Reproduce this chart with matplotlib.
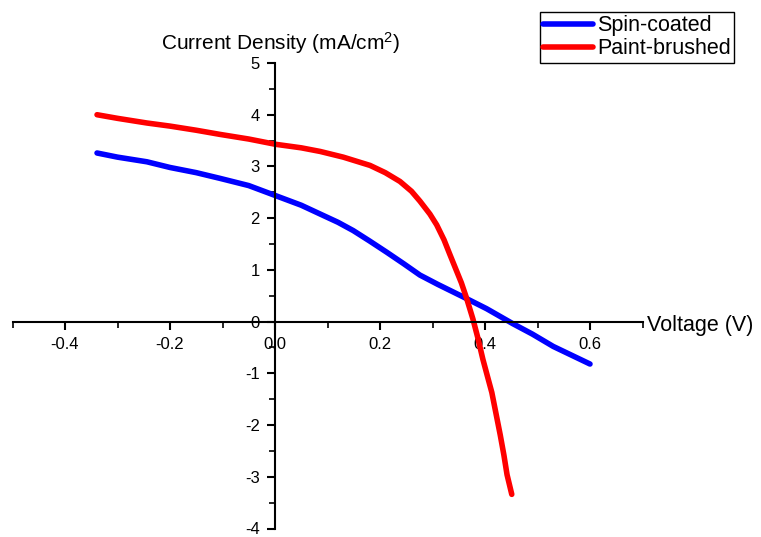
import matplotlib
matplotlib.use("Agg")
import matplotlib.pyplot as plt
from matplotlib.ticker import MultipleLocator

plt.rcParams['font.family'] = ['Liberation Sans', 'DejaVu Sans']
plt.rcParams['mathtext.default'] = 'regular'

# Spin-coated (blue)
spin_v = [-0.339, -0.3, -0.244, -0.2, -0.15, -0.105, -0.05, 0.0, 0.05, 0.086, 0.12, 0.149,
          0.18, 0.213, 0.245, 0.276, 0.31, 0.358, 0.403, 0.453, 0.49, 0.53, 0.565, 0.6]
spin_j = [3.26, 3.18, 3.09, 2.98, 2.88, 2.77, 2.63, 2.44, 2.25, 2.08, 1.92, 1.76,
          1.56, 1.34, 1.12, 0.90, 0.72, 0.48, 0.25, -0.04, -0.24, -0.48, -0.65, -0.82]

# Paint-brushed (red)
paint_v = [-0.339, -0.3, -0.244, -0.2, -0.15, -0.105, -0.05, 0.0, 0.05, 0.086, 0.13, 0.181,
           0.21, 0.238, 0.26, 0.276, 0.295, 0.308, 0.322, 0.333, 0.345, 0.355, 0.365,
           0.377, 0.386, 0.396, 0.405, 0.413, 0.421, 0.429, 0.436, 0.442, 0.451]
paint_j = [4.00, 3.93, 3.84, 3.78, 3.70, 3.62, 3.53, 3.43, 3.36, 3.29, 3.18, 3.02,
           2.88, 2.71, 2.52, 2.33, 2.08, 1.87, 1.58, 1.30, 1.00, 0.75, 0.45,
           0.05, -0.30, -0.73, -1.07, -1.37, -1.78, -2.19, -2.58, -2.96, -3.34]

fig = plt.figure(figsize=(7.61, 5.37), dpi=100)
ax = fig.add_axes([12.5 / 761, 1 - 528.5 / 537, 630 / 761, 465.5 / 537])

ax.plot(spin_v, spin_j, color='#0000ff', lw=4, solid_capstyle='round', label='Spin-coated')
ax.plot(paint_v, paint_j, color='#ff0000', lw=4, solid_capstyle='round', label='Paint-brushed')

ax.set_xlim(-0.5, 0.7)
ax.set_ylim(-4, 5)

# axes crossing at the origin
ax.spines['left'].set_position(('data', 0))
ax.spines['bottom'].set_position(('data', 0))
ax.spines['top'].set_visible(False)
ax.spines['right'].set_visible(False)
for s in ('left', 'bottom'):
    ax.spines[s].set_linewidth(1.5)

ax.xaxis.set_major_locator(MultipleLocator(0.2))
ax.xaxis.set_minor_locator(MultipleLocator(0.1))
ax.yaxis.set_major_locator(MultipleLocator(1))
ax.yaxis.set_minor_locator(MultipleLocator(0.5))
ax.xaxis.set_major_formatter(plt.FuncFormatter(lambda v, p: f"{v:.1f}"))
ax.yaxis.set_major_formatter(plt.FuncFormatter(lambda v, p: f"{v:.0f}"))
ax.tick_params(which='major', direction='out', length=6, width=1.5, labelsize=12, pad=5)
ax.tick_params(which='minor', direction='out', length=4, width=1.2)

fig.text(281 / 761, 1 - 43 / 537, 'Current Density (mA/cm$^2$)', ha='center', va='center', fontsize=15)
fig.text(647 / 761, 1 - 325 / 537, 'Voltage (V)', ha='left', va='center', fontsize=15.5)

leg = ax.legend(loc='upper right', bbox_to_anchor=(734 / 761, 1 - 12 / 537),
                bbox_transform=fig.transFigure, fontsize=15.5, frameon=True, fancybox=False,
                edgecolor='black', framealpha=1, borderpad=0.15, handlelength=2.3,
                handletextpad=0.2, labelspacing=0.1, borderaxespad=0)
leg.get_frame().set_linewidth(1.0)

fig.savefig('out.png', dpi=100)
